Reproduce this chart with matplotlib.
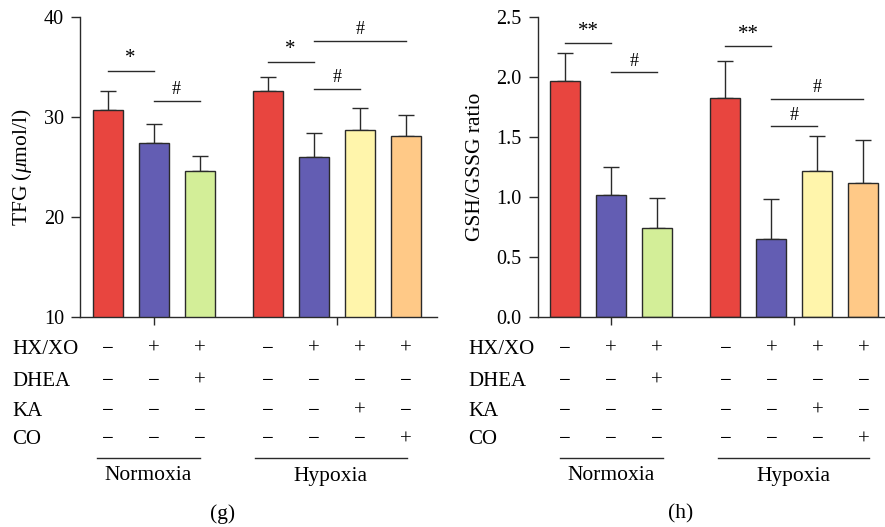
import matplotlib
matplotlib.use('Agg')
import matplotlib.pyplot as plt
import matplotlib.transforms as mtransforms

plt.rcParams['font.family'] = ['Liberation Serif', 'DejaVu Serif']
plt.rcParams['mathtext.fontset'] = 'custom'
plt.rcParams['mathtext.rm'] = 'Liberation Serif'
plt.rcParams['mathtext.it'] = 'Liberation Serif:italic'

# bar positions (two groups: normoxia 3 bars, hypoxia 4 bars)
positions = [0, 1, 2, 3.48, 4.48, 5.48, 6.48]
colors = ['#E8453F', '#635DB3', '#D3EE98', '#E8453F', '#635DB3', '#FFF5AB', '#FFC987']

# (g) TFG
tfg_mean = [30.7, 27.4, 24.6, 32.65, 26.0, 28.7, 28.1]
tfg_err = [1.93, 1.93, 1.46, 1.4, 2.36, 2.17, 2.13]
tfg_sig = [(0, 1, 34.6, '*'), (1, 2, 31.6, '#'), (3.48, 4.48, 35.5, '*'),
           (4.48, 5.48, 32.85, '#'), (4.48, 6.48, 37.6, '#')]

# (h) GSH/GSSG
gsh_mean = [1.97, 1.02, 0.74, 1.825, 0.645, 1.22, 1.12]
gsh_err = [0.23, 0.23, 0.25, 0.31, 0.335, 0.29, 0.355]
gsh_sig = [(0, 1, 2.283, '**'), (1, 2, 2.04, '#'), (3.48, 4.48, 2.258, '**'),
           (4.48, 5.48, 1.589, '#'), (4.48, 6.48, 1.817, '#')]

row_names = ['HX/XO', 'DHEA', 'KA', 'CO']
rows = [['−', '+', '+', '−', '+', '+', '+'],
        ['−', '−', '+', '−', '−', '−', '−'],
        ['−', '−', '−', '−', '−', '+', '−'],
        ['−', '−', '−', '−', '−', '−', '+']]
row_y_px = [349, 381, 411, 440]

W, H = 885, 527
fig = plt.figure(figsize=(W / 100, H / 100), dpi=100)
edge = '#2a2a2a'


def draw_panel(ax, mean, err, sig, ylim, yticks, ylabel, xlim, label_x_px,
               norm_line, hyp_line, letter, letter_x_px, ylabel_x):
    ax.bar(positions, mean, width=0.65, color=colors, edgecolor=edge, linewidth=1.0, zorder=2)
    ax.errorbar(positions, mean, yerr=[[0] * len(err), err], fmt='none', ecolor=edge,
                elinewidth=1.0, capsize=5.5, capthick=1.0, zorder=1)
    ax.set_ylim(*ylim)
    ax.set_xlim(*xlim)
    ax.set_yticks(yticks)
    ax.set_xticks([1, 4.98])
    ax.set_xticklabels([])
    ax.spines['top'].set_visible(False)
    ax.spines['right'].set_visible(False)
    for s in ['left', 'bottom']:
        ax.spines[s].set_color(edge)
        ax.spines[s].set_linewidth(1.0)
    ax.tick_params(axis='y', direction='out', length=6.5, width=1.0, color=edge,
                   labelsize=14.5, pad=5)
    ax.tick_params(axis='x', direction='out', length=5.5, width=1.0, color=edge)
    ax.set_ylabel(ylabel, fontsize=15.5)
    ax.yaxis.set_label_coords(ylabel_x, 0.5)

    for x1, x2, y, txt in sig:
        ax.plot([x1, x2], [y, y], color=edge, lw=1.0, clip_on=False)
        ax.annotate(txt, ((x1 + x2) / 2, y), xytext=(0, 2), textcoords='offset points',
                    ha='center', va='bottom', fontsize=15 if txt != '#' else 13)

    tr = mtransforms.blended_transform_factory(ax.transData, fig.transFigure)
    for name, row, ypx in zip(row_names, rows, row_y_px):
        yf = 1 - ypx / H
        fig.text(label_x_px / W, yf, name, ha='left', va='center', fontsize=15)
        for x, s in zip(positions, row):
            ax.text(x, yf, s, transform=tr, ha='center', va='center', fontsize=15)

    yl = 1 - 457.5 / H
    for (x1, x2), name in zip([norm_line, hyp_line], ['Normoxia', 'Hypoxia']):
        ax.plot([x1, x2], [yl, yl], transform=tr, color=edge, lw=1.0, clip_on=False)
        ax.text((x1 + x2) / 2, 1 - 476 / H, name, transform=tr, ha='center', va='center',
                fontsize=15.5)
    fig.text(letter_x_px / W, 1 - 514 / H, letter, ha='center', va='center', fontsize=15.5)


ax1 = fig.add_axes([80 / W, 1 - 317 / H, 357 / W, 300 / H])
draw_panel(ax1, tfg_mean, tfg_err, tfg_sig, (10, 40), [10, 20, 30, 40],
           'TFG ($\\mathit{\\mu}$mol/l)', (-0.6, 7.16), 12,
           (-0.23, 2.0), (3.2, 6.5), '(g)', 223, -0.13)

ax2 = fig.add_axes([537.7 / W, 1 - 316.7 / H, 347.3 / W, 299.4 / H])
draw_panel(ax2, gsh_mean, gsh_err, gsh_sig, (0, 2.5), [0.0, 0.5, 1.0, 1.5, 2.0, 2.5],
           'GSH/GSSG ratio', (-0.6, 6.95), 468,
           (-0.12, 2.12), (3.31, 6.6), '(h)', 681, -0.152)
ax2.yaxis.set_major_formatter(matplotlib.ticker.FormatStrFormatter('%.1f'))

fig.savefig('out.png', dpi=100)
